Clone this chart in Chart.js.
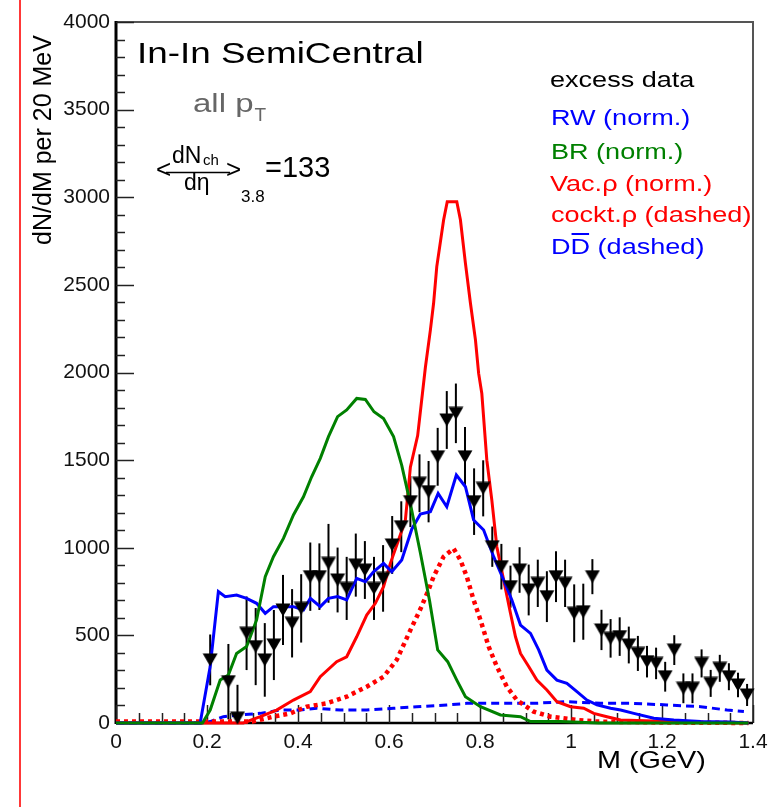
<!DOCTYPE html>
<html><head><meta charset="utf-8">
<script src="https://cdn.jsdelivr.net/npm/chart.js@4.4.1/dist/chart.umd.min.js"></script>
<style>
html,body{margin:0;padding:0;background:#fff;overflow:hidden}
#wrap{position:relative;width:778px;height:807px}
#redline{position:absolute;left:19px;top:0;width:2px;height:807px;background:#ff3838}
canvas{position:absolute;left:0;top:0}
</style></head><body>
<div id="wrap"><canvas id="c" width="778" height="807" style="width:778px;height:807px"></canvas><div id="redline"></div></div>
<script>
// ---------- data ----------
const xTicks = [0, 0.2, 0.4, 0.6, 0.8, 1.0, 1.2, 1.4];
const xTickLabels = ['0', '0.2', '0.4', '0.6', '0.8', '1', '1.2', '1.4'];
const yTicks = [0, 500, 1000, 1500, 2000, 2500, 3000, 3500, 4000];
const yTickLabels = ['0', '500', '1000', '1500', '2000', '2500', '3000', '3500', '4000'];

// excess data (M in GeV, dN/dM, stat. error)
const dataM = [0.207, 0.247, 0.267, 0.287, 0.307, 0.327, 0.347, 0.367, 0.387, 0.407, 0.427, 0.447, 0.467, 0.487, 0.507, 0.527, 0.547, 0.567, 0.587, 0.607, 0.627, 0.647, 0.667, 0.687, 0.707, 0.727, 0.747, 0.767, 0.787, 0.807, 0.827, 0.847, 0.867, 0.887, 0.907, 0.927, 0.947, 0.967, 0.987, 1.007, 1.027, 1.047, 1.067, 1.087, 1.107, 1.127, 1.147, 1.167, 1.187, 1.207, 1.227, 1.247, 1.267, 1.287, 1.307, 1.327, 1.347, 1.367, 1.387];
const dataY = [360, 236, 28, 512, 436, 360, 445, 645, 569, 654, 835, 835, 911, 816, 768, 901, 873, 768, 825, 1016, 1120, 1263, 1368, 1320, 1519, 1729, 1767, 1519, 1263, 1339, 1006, 892, 778, 873, 759, 797, 721, 835, 797, 626, 635, 835, 531, 483, 493, 445, 397, 350, 340, 264, 416, 198, 198, 340, 226, 312, 264, 217, 160];
const dataErr = [145, 215, 190, 210, 220, 210, 200, 200, 195, 195, 195, 190, 225, 185, 180, 180, 165, 180, 190, 165, 145, 145, 165, 175, 165, 165, 170, 170, 190, 160, 115, 130, 120, 130, 145, 135, 145, 145, 135, 165, 160, 100, 115, 110, 110, 105, 100, 90, 90, 85, 85, 85, 85, 80, 77, 77, 77, 70, 63];

// RW (norm.)
const rwM = [0, 0.185, 0.207, 0.225, 0.240, 0.265, 0.287, 0.309, 0.328, 0.346, 0.368, 0.390, 0.412, 0.427, 0.449, 0.467, 0.487, 0.507, 0.529, 0.548, 0.566, 0.588, 0.606, 0.628, 0.650, 0.669, 0.691, 0.708, 0.727, 0.748, 0.768, 0.786, 0.808, 0.830, 0.852, 0.870, 0.889, 0.911, 0.929, 0.947, 0.969, 0.991, 1.013, 1.035, 1.057, 1.087, 1.109, 1.138, 1.182, 1.226, 1.285, 1.350, 1.390];
const rwY = [0, 0, 322, 750, 721, 730, 711, 683, 626, 664, 664, 664, 645, 711, 664, 711, 721, 702, 825, 806, 863, 911, 863, 930, 1106, 1192, 1206, 1310, 1234, 1415, 1348, 1158, 1101, 949, 816, 702, 559, 511, 417, 302, 245, 226, 179, 131, 103, 84, 74, 55, 27, 17, 8, 5, 0];

// BR (norm.)
const brM = [0, 0.190, 0.207, 0.229, 0.247, 0.265, 0.287, 0.309, 0.328, 0.346, 0.368, 0.390, 0.412, 0.430, 0.449, 0.467, 0.487, 0.507, 0.529, 0.548, 0.567, 0.588, 0.610, 0.628, 0.647, 0.669, 0.689, 0.707, 0.729, 0.749, 0.768, 0.801, 0.845, 0.889, 0.911, 0.977, 1.060, 1.390];
const brY = [0, 0, 74, 245, 274, 397, 436, 588, 835, 949, 1053, 1187, 1291, 1405, 1510, 1634, 1748, 1786, 1852, 1846, 1776, 1738, 1634, 1470, 1250, 970, 700, 417, 350, 245, 150, 93, 46, 36, 8, 8, 0, 0];

// Vac.rho (norm.)
const vacM = [0, 0.280, 0.317, 0.353, 0.390, 0.427, 0.449, 0.485, 0.507, 0.529, 0.551, 0.570, 0.588, 0.603, 0.621, 0.636, 0.647, 0.663, 0.680, 0.691, 0.698, 0.705, 0.720, 0.728, 0.749, 0.757, 0.768, 0.779, 0.790, 0.797, 0.804, 0.815, 0.826, 0.837, 0.852, 0.867, 0.878, 0.889, 0.907, 0.925, 0.947, 0.969, 0.999, 1.028, 1.050, 1.079, 1.109, 1.200, 1.300, 1.390];
const vacY = [0, 0, 36, 74, 131, 179, 264, 350, 378, 492, 616, 683, 778, 911, 1044, 1158, 1460, 1640, 2030, 2243, 2395, 2604, 2870, 2975, 2975, 2870, 2623, 2395, 2186, 1995, 1880, 1500, 1272, 1006, 816, 626, 492, 397, 322, 245, 188, 122, 93, 84, 55, 36, 17, 10, 3, 0];

// cockt.rho (dashed)
const cockM = [0, 0.300, 0.346, 0.383, 0.419, 0.463, 0.507, 0.551, 0.588, 0.617, 0.647, 0.669, 0.687, 0.698, 0.720, 0.742, 0.757, 0.771, 0.786, 0.801, 0.819, 0.837, 0.859, 0.881, 0.918, 0.955, 1.013, 1.060, 1.200, 1.390];
const cockY = [8, 8, 36, 55, 93, 112, 150, 207, 264, 360, 530, 650, 760, 835, 949, 995, 930, 835, 702, 588, 436, 322, 207, 131, 65, 36, 17, 8, 3, 0];

// D Dbar (dashed)
const ddM = [0, 0.190, 0.207, 0.236, 0.273, 0.317, 0.361, 0.405, 0.441, 0.493, 0.551, 0.610, 0.661, 0.727, 0.771, 0.845, 0.918, 0.991, 1.065, 1.138, 1.211, 1.285, 1.343, 1.380];
const ddY = [0, 0, 8, 36, 46, 55, 74, 74, 84, 74, 74, 84, 93, 103, 112, 112, 112, 122, 112, 112, 103, 93, 74, 65];

// ---------- helpers ----------
const FONT = '"Liberation Sans", Arial, Helvetica, sans-serif';
const BLUE = '#0000ff', GREEN = '#008000', RED = '#ff0000';
function pts(xs, ys) { return xs.map((x, i) => ({x: x, y: ys[i]})); }

// downward triangle marker, centred on its box
const tri = document.createElement('canvas');
tri.width = 16; tri.height = 14;
(function () {
  const t = tri.getContext('2d');
  t.fillStyle = '#000';
  t.beginPath(); t.moveTo(0.5, 0.5); t.lineTo(15.5, 0.5); t.lineTo(8, 13.5); t.closePath(); t.fill();
})();

function curve(label, xs, ys, color, width, dash) {
  return {label: label, data: pts(xs, ys), showLine: true, borderColor: color, backgroundColor: color,
    borderWidth: width, borderDash: dash || [], pointRadius: 0, pointHoverRadius: 0, tension: 0, fill: false, clip: false};
}

function txt(ctx, s, x, y, size, color, sx, weight) {
  ctx.save();
  ctx.font = (weight || '') + ' ' + size + 'px ' + FONT;
  ctx.fillStyle = color; ctx.textAlign = 'left'; ctx.textBaseline = 'alphabetic';
  ctx.translate(x, y); ctx.scale(sx, 1);
  ctx.fillText(s, 0, 0);
  const w = ctx.measureText(s).width * sx;
  ctx.restore();
  return w;
}

const framePlugin = {
  id: 'frameAndErrors',
  beforeDatasetsDraw(chart) {
    const ctx = chart.ctx, a = chart.chartArea, xs = chart.scales.x, ys = chart.scales.y;
    ctx.save();
    // frame
    ctx.strokeStyle = '#555'; ctx.lineWidth = 2;
    ctx.beginPath(); ctx.moveTo(a.left, a.top); ctx.lineTo(a.right, a.top); ctx.lineTo(a.right, a.bottom); ctx.stroke();
    ctx.strokeStyle = '#000'; ctx.lineWidth = 3;
    ctx.beginPath(); ctx.moveTo(a.left, a.top - 1); ctx.lineTo(a.left, a.bottom + 1); ctx.stroke();
    ctx.lineWidth = 2.5;
    ctx.beginPath(); ctx.moveTo(a.left, a.bottom); ctx.lineTo(a.right, a.bottom); ctx.stroke();
    // inner ticks
    ctx.lineWidth = 1.5; ctx.strokeStyle = '#222';
    for (let v = ys.min; v <= ys.max + 1e-6; v += 100) {
      const py = Math.round(ys.getPixelForValue(v)) + 0.5;
      const len = (Math.round(v) % 500 === 0) ? 18 : 9;
      ctx.beginPath(); ctx.moveTo(a.left, py); ctx.lineTo(a.left + len, py); ctx.stroke();
    }
    for (let i = 0; i <= 28; i++) {
      const v = i * 0.05;
      const px = Math.round(xs.getPixelForValue(v)) + 0.5;
      const len = (i % 4 === 0) ? 18 : 10;
      ctx.beginPath(); ctx.moveTo(px, a.bottom); ctx.lineTo(px, a.bottom - len); ctx.stroke();
    }
    // error bars
    ctx.strokeStyle = '#000'; ctx.lineWidth = 2;
    for (let i = 0; i < dataM.length; i++) {
      const px = xs.getPixelForValue(dataM[i]);
      const y1 = ys.getPixelForValue(Math.max(0, dataY[i] - dataErr[i]));
      const y2 = ys.getPixelForValue(dataY[i] + dataErr[i]);
      ctx.beginPath(); ctx.moveTo(px, y1); ctx.lineTo(px, y2); ctx.stroke();
    }
    ctx.restore();
  },
  afterDraw(chart) {
    const ctx = chart.ctx;
    // panel texts
    txt(ctx, 'In-In SemiCentral', 137, 63, 29, '#000', 1.27);
    const w = txt(ctx, 'all p', 193, 112, 26, '#666', 1.27);
    txt(ctx, 'T', 193 + w + 1, 121, 19, '#666', 1.0);
    // <dNch/deta>_3.8 = 133
    txt(ctx, '<', 156, 178, 26, '#000', 1.0);
    txt(ctx, 'dN', 172, 163, 23, '#000', 1.0);
    txt(ctx, 'ch', 203, 165, 15, '#000', 1.0);
    ctx.save(); ctx.strokeStyle = '#000'; ctx.lineWidth = 1.5;
    ctx.beginPath(); ctx.moveTo(166, 172.5); ctx.lineTo(230, 172.5); ctx.stroke(); ctx.restore();
    txt(ctx, 'd\u03b7', 184, 190, 23, '#000', 1.0);
    txt(ctx, '>', 226, 178, 26, '#000', 1.0);
    txt(ctx, '3.8', 241, 202, 17, '#000', 1.0);
    txt(ctx, '=133', 265, 177, 29, '#000', 1.0);
    // legend
    const LX = 550, LS = 22, LSX = 1.23;
    txt(ctx, 'excess data', LX, 87, LS, '#000', LSX);
    txt(ctx, 'RW (norm.)', LX + 1, 125, LS, BLUE, LSX);
    txt(ctx, 'BR (norm.)', LX + 1, 159, LS, GREEN, LSX);
    txt(ctx, 'Vac.\u03c1 (norm.)', LX, 191, LS, RED, LSX);
    txt(ctx, 'cockt.\u03c1 (dashed)', LX + 1, 222, LS, RED, LSX);
    const w1 = txt(ctx, 'D', LX + 1, 254, LS, BLUE, LSX);
    const w2 = txt(ctx, 'D', LX + 1 + w1, 254, LS, BLUE, LSX);
    ctx.save(); ctx.strokeStyle = BLUE; ctx.lineWidth = 2;
    ctx.beginPath(); ctx.moveTo(LX + 1 + w1 + 1, 234); ctx.lineTo(LX + 1 + w1 + w2 - 1, 234); ctx.stroke(); ctx.restore();
    txt(ctx, ' (dashed)', LX + 1 + w1 + w2, 254, LS, BLUE, LSX);
    // axis titles
    txt(ctx, 'M (GeV)', 597, 768, 24, '#000', 1.2);
    ctx.save();
    ctx.font = '25px ' + FONT; ctx.fillStyle = '#000'; ctx.textAlign = 'center'; ctx.textBaseline = 'alphabetic';
    ctx.translate(51, 140); ctx.rotate(-Math.PI / 2);
    ctx.fillText('dN/dM per 20 MeV', 0, 0);
    ctx.restore();
  }
};

new Chart(document.getElementById('c'), {
  type: 'scatter',
  data: {
    datasets: [
      {label: 'excess data', data: pts(dataM, dataY), showLine: false, pointStyle: tri, pointRadius: 8,
        pointHoverRadius: 8, backgroundColor: '#000', borderColor: '#000', borderWidth: 0, clip: false},
      curve('BR (norm.)', brM, brY, GREEN, 3),
      curve('RW (norm.)', rwM, rwY, BLUE, 3),
      curve('Vac.\u03c1 (norm.)', vacM, vacY, RED, 3),
      curve('cockt.\u03c1 (dashed)', cockM, cockY, RED, 4.5, [4, 4]),
      curve('D Dbar (dashed)', ddM, ddY, BLUE, 3, [8, 5])
    ]
  },
  options: {
    responsive: false, animation: false, devicePixelRatio: 1,
    layout: {padding: {left: 0, right: 25, top: 22, bottom: 0}},
    plugins: {legend: {display: false}, tooltip: {enabled: false}, title: {display: false}},
    scales: {
      x: {
        type: 'linear', min: 0, max: 1.4,
        afterFit(s) { s.height = 84; },
        afterBuildTicks(s) { s.ticks = xTicks.map(v => ({value: v})); },
        grid: {display: false, drawTicks: false}, border: {display: false},
        ticks: {padding: 7, color: '#111', font: {family: FONT, size: 21}, maxRotation: 0, autoSkip: false,
          callback: (v, i) => xTickLabels[i]}
      },
      y: {
        type: 'linear', min: 0, max: 4000,
        afterFit(s) { s.width = 116; },
        afterBuildTicks(s) { s.ticks = yTicks.map(v => ({value: v})); },
        grid: {display: false, drawTicks: false}, border: {display: false},
        ticks: {padding: 6, color: '#111', font: {family: FONT, size: 21}, autoSkip: false,
          callback: (v, i) => yTickLabels[i]}
      }
    }
  },
  plugins: [framePlugin]
});
</script>
</body></html>
